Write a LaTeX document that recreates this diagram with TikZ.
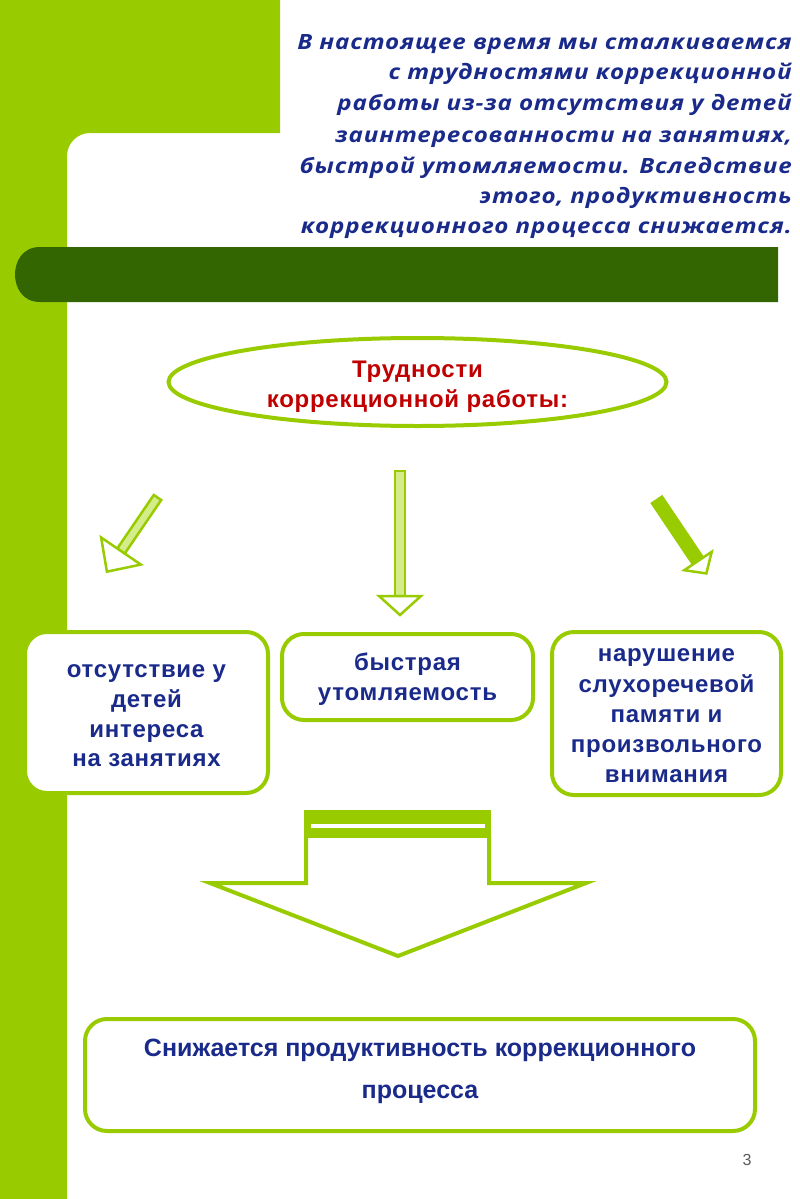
\documentclass[tikz,border=0pt]{standalone}
\usepackage{fontspec}
\setmainfont{Liberation Sans}
\newfontfamily\topfont{Open Sans}[FakeStretch=1.15, LetterSpace=4]
\newfontfamily\spacedfont{Liberation Sans}[LetterSpace=3]
\usetikzlibrary{shapes.geometric}
\definecolor{lgreen}{HTML}{99CC00}
\definecolor{dgreen}{HTML}{336600}
\definecolor{txtblue}{HTML}{1A2A8A}
\definecolor{txtred}{HTML}{C00000}
\definecolor{pale}{HTML}{D4EC8A}
\newcommand{\smallarrow}[8]{%
  \begin{scope}[shift={(#1,#2)}, rotate=#3]
    \draw[lgreen, line width=2.5pt, fill=#8] (0,-#5/2) rectangle (#4,#5/2);
    \draw[lgreen, line width=2.5pt, fill=white, line join=miter] (#4,-#6/2) -- (#4+#7,0) -- (#4,#6/2) -- cycle;
  \end{scope}}
\tikzset{
  topline/.style={anchor=base east, text=txtblue, inner sep=0pt,
    font=\topfont\bfseries\itshape\fontsize{21}{21}\selectfont},
  box/.style={draw=lgreen, line width=4pt, rounded corners=22pt, fill=white, inner sep=0pt},
  btext/.style={anchor=base, text=txtblue, inner sep=0pt,
    font=\spacedfont\bfseries\fontsize{24}{24}\selectfont},
  rtext/.style={anchor=base, text=txtred, inner sep=0pt,
    font=\spacedfont\bfseries\fontsize{24}{24}\selectfont},
  ftext/.style={anchor=base, text=txtblue, inner sep=0pt,
    font=\bfseries\fontsize{25}{25}\selectfont},
}
\begin{document}
\begin{tikzpicture}[x=1pt,y=-1pt]
\useasboundingbox (0,0) rectangle (800,1199);
\fill[white] (0,0) rectangle (800,1199);
% light green L shape
\fill[lgreen] (0,0) -- (280,0) -- (280,133) -- (90,133)
  .. controls (77.3,133) and (67,143.3) .. (67,156) -- (67,1199) -- (0,1199) -- cycle;
% dark bar
\fill[dgreen] (778,247) -- (40,247) .. controls (22,247) and (15,262) .. (15,274.5)
  .. controls (15,287) and (22,302) .. (40,302) -- (778,302) -- cycle;
% top text
\node[topline] (t1) at (792,49) {В настоящее время мы сталкиваемся};
\node[topline] (t2) at (792,80) {с трудностями коррекционной};
\node[topline] (t3) at (792,110) {работы из-за отсутствия у детей};
\node[topline] (t4) at (792,142) {заинтересованности на занятиях,};
\node[topline] (t5) at (792,173) {быстрой утомляемости. Вследствие};
\node[topline] (t6) at (792,203) {этого, продуктивность};
\node[topline] (t7) at (792,233) {коррекционного процесса снижается.};
% ellipse
\node[ellipse, draw=lgreen, line width=4pt, minimum width=498pt, minimum height=88pt,
  inner sep=0pt] (ell) at (417.5,382) {};
\node[rtext] (e1) at (417.5,377) {Трудности};
\node[rtext] (e2) at (417.5,407) {коррекционной работы:};
% small arrows
\smallarrow{157.5}{497.5}{235.7}{64.8}{9}{48}{25}{pale}
\smallarrow{400}{471}{270}{125}{10}{42}{19}{pale}
\smallarrow{657}{500}{303.9}{73.5}{12}{33}{15}{lgreen}
% boxes
\node[box, minimum width=243pt, minimum height=161pt] (b1) at (146.5,712.5) {};
\node[btext] (b1a) at (146.5,677) {отсутствие у};
\node[btext] (b1b) at (146.5,707) {детей};
\node[btext] (b1c) at (146.5,737) {интереса};
\node[btext] (b1d) at (146.5,766) {на занятиях};
\node[box, minimum width=251pt, minimum height=86pt] (b2) at (407.5,677) {};
\node[btext] (b2a) at (407.5,670) {быстрая};
\node[btext] (b2b) at (407.5,700) {утомляемость};
\node[box, minimum width=229pt, minimum height=163pt] (b3) at (666.5,713.5) {};
\node[btext] (b3a) at (666.5,661) {нарушение};
\node[btext] (b3b) at (666.5,692) {слухоречевой};
\node[btext] (b3c) at (666.5,722) {памяти и};
\node[btext] (b3d) at (666.5,752) {произвольного};
\node[btext] (b3e) at (666.5,782) {внимания};
% big arrow
\fill[lgreen] (304,810) rectangle (491,838);
\fill[white] (311,824) rectangle (485,828);
\draw[lgreen, line width=4pt, line join=miter] (306,836) -- (306,883) -- (210,883)
  -- (398,956) -- (586,883) -- (489,883) -- (489,836);
% bottom box
\node[box, minimum width=670pt, minimum height=112pt] (b4) at (420,1075) {};
\node[ftext] (b4a) at (420,1056) {Снижается продуктивность коррекционного};
\node[ftext] (b4b) at (420,1098) {процесса};
% page number
\node[text=black!65, font=\fontsize{16}{16}\selectfont, inner sep=0pt] (pn) at (747,1160) {3};
\end{tikzpicture}
\end{document}
